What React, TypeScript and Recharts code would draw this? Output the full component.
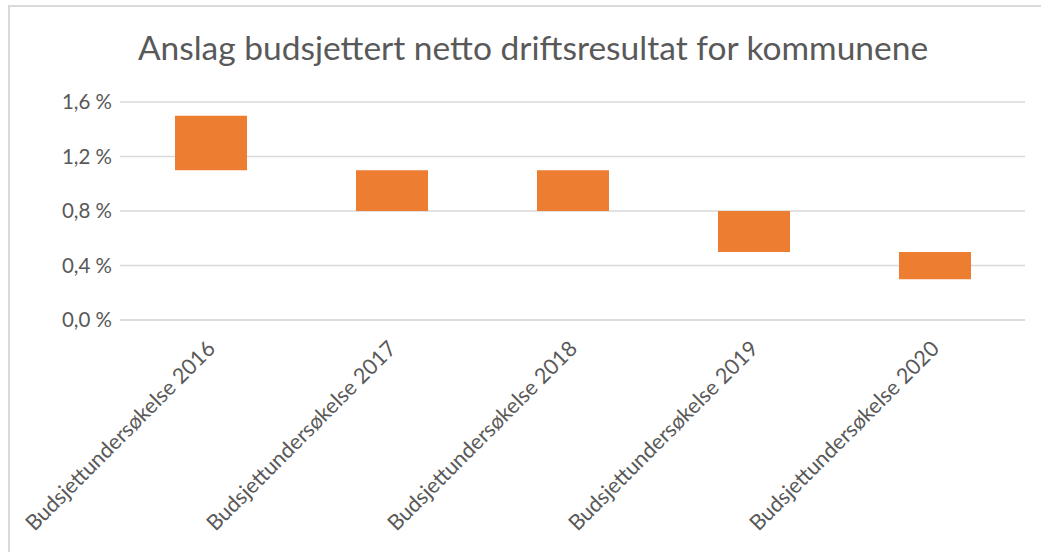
import { BarChart, Bar, XAxis, YAxis, CartesianGrid } from 'recharts';

const categories = [
  'Budsjettundersøkelse 2016',
  'Budsjettundersøkelse 2017',
  'Budsjettundersøkelse 2018',
  'Budsjettundersøkelse 2019',
  'Budsjettundersøkelse 2020',
];
const lowValues = [1.1, 0.8, 0.8, 0.5, 0.3];
const highValues = [1.5, 1.1, 1.1, 0.8, 0.5];
const yTicks = [0, 0.4, 0.8, 1.2, 1.6];

const data = categories.map((name, i) => ({
  name,
  range: [lowValues[i], highValues[i]],
}));

const FONT = 'Lato, "Open Sans", sans-serif';
const TEXT = '#595959';

const fmtPct = (v: number) => v.toFixed(1).replace('.', ',') + ' %';

function AngledTick(props: any) {
  const { x, y, payload } = props;
  return (
    <text
      x={x + 6}
      y={y + 22}
      transform={`rotate(-45, ${x + 6}, ${y + 22})`}
      textAnchor="end"
      fill={TEXT}
      fontSize={21.5}
      fontFamily={FONT}
    >
      {payload.value}
    </text>
  );
}

export default function App() {
  return (
    <div style={{ position: 'fixed', left: 0, top: 0, width: 1041, height: 552, background: '#fff' }}>
      <div
        style={{
          position: 'absolute',
          left: 8,
          top: 5,
          right: 0,
          bottom: 0,
          borderTop: '2px solid #d9d9d9',
          borderLeft: '2px solid #d9d9d9',
        }}
      />
      <div
        style={{
          position: 'absolute',
          left: 0,
          top: 27,
          width: 1066,
          textAlign: 'center',
          fontFamily: FONT,
          fontSize: 33.5,
          color: TEXT,
        }}
      >
        Anslag budsjettert netto driftsresultat for kommunene
      </div>
      <div style={{ position: 'absolute', left: 0, top: 0 }}>
        <BarChart
          width={1041}
          height={552}
          data={data}
          margin={{ top: 102, right: 16, bottom: 0, left: 0 }}
          barCategoryGap="30%"
        >
          <CartesianGrid vertical={false} stroke="#d9d9d9" strokeWidth={1.5} />
          <XAxis
            dataKey="name"
            interval={0}
            height={232}
            tick={<AngledTick />}
            tickLine={false}
            axisLine={{ stroke: '#d9d9d9', strokeWidth: 1.5 }}
          />
          <YAxis
            width={120}
            domain={[0, 1.6]}
            ticks={yTicks}
            tickFormatter={fmtPct}
            axisLine={false}
            tickLine={false}
            tick={{ fill: TEXT, fontSize: 20.5, fontFamily: FONT }}
            tickMargin={2}
          />
          <Bar dataKey="range" fill="#ed7d31" isAnimationActive={false} barSize={72} />
        </BarChart>
      </div>
    </div>
  );
}
